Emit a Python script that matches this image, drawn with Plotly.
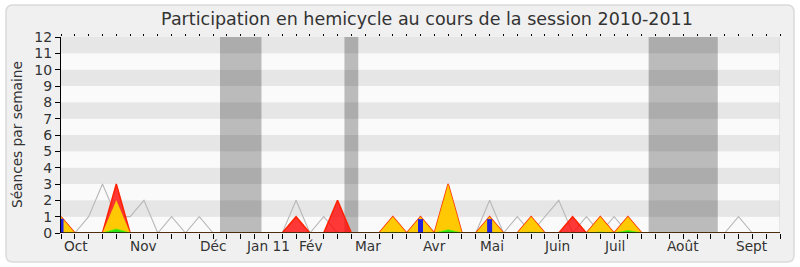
import plotly.graph_objects as go

# Weekly series for the 2010-2011 session (one point per week)
weeks = list(range(53))
median_line = [1, 0, 1, 3, 1, 1, 2, 0, 1, 0, 1, 0, 0, 0, 0, 0, 0, 2, 0, 1, 0, 0,
               0, 0, 0, 0, 0, 0, 1, 0, 0, 2, 0, 1, 0, 1, 2, 0, 1, 0, 1, 0,
               0, 0, 0, 0, 0, 0, 0, 1, 0, 0, 0]
presences = [1, 0, 0, 0, 3, 0, 0, 0, 0, 0, 0, 0, 0, 0, 0, 0, 0, 1, 0, 0, 2, 0,
             0, 0, 1, 0, 1, 0, 3, 0, 0, 1, 0, 0, 1, 0, 0, 1, 0, 1, 0, 1,
             0, 0, 0, 0, 0, 0, 0, 0, 0, 0, 0]
interventions = [1, 0, 0, 0, 2, 0, 0, 0, 0, 0, 0, 0, 0, 0, 0, 0, 0, 0, 0, 0, 0, 0,
                 0, 0, 1, 0, 1, 0, 3, 0, 0, 1, 0, 0, 1, 0, 0, 0, 0, 1, 0, 1,
                 0, 0, 0, 0, 0, 0, 0, 0, 0, 0, 0]
mots = [0, 0, 0, 0, 0.25, 0, 0, 0, 0, 0, 0, 0, 0, 0, 0, 0, 0, 0, 0, 0, 0, 0,
        0, 0, 0.05, 0, 0, 0, 0.2, 0, 0, 0.05, 0, 0, 0.05, 0, 0, 0, 0, 0.06, 0, 0.16,
        0, 0, 0, 0, 0, 0, 0, 0, 0, 0, 0]
questions_weeks = [0, 26, 31]
questions = [0.87, 0.85, 0.85]

# Parliamentary breaks (week ranges)
vacances = [(11.5, 14.5), (20.5, 21.5), (42.5, 47.5)]

# Month labels and their week positions
mois = ["Oct", "Nov", "Déc", "Jan 11", "Fév", "Mar", "Avr", "Mai", "Juin", "Juil", "Août", "Sept"]
mois_pos = [1.1, 6.0, 11.0, 15.0, 18.1, 22.2, 27.0, 31.2, 35.9, 40.0, 45.0, 50.0]

W, H = 800, 267
ML, MR, MT, MB = 61, 20, 37, 34
PW, PH = W - ML - MR, H - MT - MB
FONT = "DejaVu Sans"
TXT = "#333333"


def px_x(px):
    return (px - ML) / PW


def px_y(py):
    return (H - MB - py) / PH


fig = go.Figure()

fig.add_trace(go.Scatter(x=weeks, y=median_line, mode="lines",
                         line=dict(color="#b8b8b8", width=1.1), hoverinfo="skip"))
fig.add_trace(go.Scatter(x=weeks, y=presences, mode="lines", fill="tozeroy",
                         fillcolor="rgba(255,0,0,0.78)",
                         line=dict(color="#ff2200", width=1.5), hoverinfo="skip"))
fig.add_trace(go.Scatter(x=weeks, y=interventions, mode="lines", fill="tozeroy",
                         fillcolor="rgba(255,212,0,0.93)",
                         line=dict(color="rgba(255,190,0,0.35)", width=0.6), hoverinfo="skip"))
fig.add_trace(go.Scatter(x=weeks, y=mots, mode="lines", fill="tozeroy",
                         fillcolor="rgba(20,230,20,0.9)",
                         line=dict(color="#66ee00", width=0.8), hoverinfo="skip"))

# Oral questions drawn as thick vertical strokes from zero
qx, qy = [], []
for w, v in zip(questions_weeks, questions):
    qx += [w, w, None]
    qy += [0, v, None]
fig.add_trace(go.Scatter(x=qx, y=qy, mode="lines",
                         line=dict(color="#2323dd", width=5), hoverinfo="skip"))

# Invisible trace carrying the top tick axis
fig.add_trace(go.Scatter(x=[None], y=[None], xaxis="x2", yaxis="y",
                         mode="markers", hoverinfo="skip"))

shapes = []
# Rounded outer frame
x0, x1, y0, y1, r = 6, 794, 5, 262, 7
path = (f"M {px_x(x0 + r)},{px_y(y0)} L {px_x(x1 - r)},{px_y(y0)} "
        f"Q {px_x(x1)},{px_y(y0)} {px_x(x1)},{px_y(y0 + r)} "
        f"L {px_x(x1)},{px_y(y1 - r)} Q {px_x(x1)},{px_y(y1)} {px_x(x1 - r)},{px_y(y1)} "
        f"L {px_x(x0 + r)},{px_y(y1)} Q {px_x(x0)},{px_y(y1)} {px_x(x0)},{px_y(y1 - r)} "
        f"L {px_x(x0)},{px_y(y0 + r)} Q {px_x(x0)},{px_y(y0)} {px_x(x0 + r)},{px_y(y0)} Z")
shapes.append(dict(type="path", path=path, xref="paper", yref="paper",
                   fillcolor="#f0f0f0", line=dict(color="#dadada", width=1.5),
                   layer="below"))
# Alternating horizontal stripes
for k in range(12):
    shapes.append(dict(type="rect", xref="x", yref="y", x0=0, x1=52, y0=k, y1=k + 1,
                       fillcolor="#e6e6e6" if k % 2 else "#fafafa",
                       line=dict(width=0), layer="below"))
# Breaks
for a, b in vacances:
    shapes.append(dict(type="rect", xref="x", yref="y", x0=a, x1=b, y0=0, y1=12,
                       fillcolor="rgba(0,0,0,0.25)", line=dict(width=0), layer="below"))
# Right edge of the plotting area
shapes.append(dict(type="line", xref="x", yref="y", x0=52, x1=52, y0=0, y1=12,
                   line=dict(color="#d4d4d4", width=1), layer="below"))
# Dark baseline drawn over the zero edges of the areas
shapes.append(dict(type="line", xref="x", yref="y", x0=0, x1=52, y0=0, y1=0,
                   line=dict(color="#2a0a0a", width=1.6), layer="above"))

annotations = []
for m, p in zip(mois, mois_pos):
    annotations.append(dict(x=p, xref="x", y=px_y(246), yref="paper", text=m,
                            showarrow=False, xanchor="center", yanchor="middle",
                            font=dict(family=FONT, size=13.7, color=TXT)))
annotations.append(dict(x=px_x(17), xref="paper", y=0.5, yref="paper",
                        text="Séances par semaine", textangle=-90, showarrow=False,
                        xanchor="center", yanchor="middle",
                        font=dict(family=FONT, size=13.7, color=TXT)))

fig.update_layout(
    width=W, height=H,
    margin=dict(l=ML, r=MR, t=MT, b=MB),
    paper_bgcolor="white",
    plot_bgcolor="rgba(0,0,0,0)",
    showlegend=False,
    title=dict(text="Participation en hemicycle au cours de la session 2010-2011",
               x=427 / W, xref="container", xanchor="center",
               y=1 - 19 / H, yref="container", yanchor="middle",
               font=dict(family=FONT, size=17.5, color=TXT)),
    xaxis=dict(range=[0, 52], tickvals=weeks, showticklabels=False,
               ticks="outside", ticklen=5, tickcolor="black", tickwidth=1,
               showline=False,
               showgrid=False, zeroline=False, fixedrange=True),
    xaxis2=dict(range=[0, 52], overlaying="x", side="top", anchor="y",
                tickvals=weeks, showticklabels=False, ticks="outside",
                ticklen=2, tickcolor="black", tickwidth=1,
                showline=False, showgrid=False, zeroline=False),
    yaxis=dict(range=[0, 12], dtick=1, tick0=0, ticks="outside", ticklen=5,
               tickcolor="black", showline=True, linecolor="black", linewidth=1,
               showgrid=False, zeroline=False,
               tickfont=dict(family=FONT, size=14, color=TXT)),
    shapes=shapes,
    annotations=annotations,
)

fig.write_html("out.html")
